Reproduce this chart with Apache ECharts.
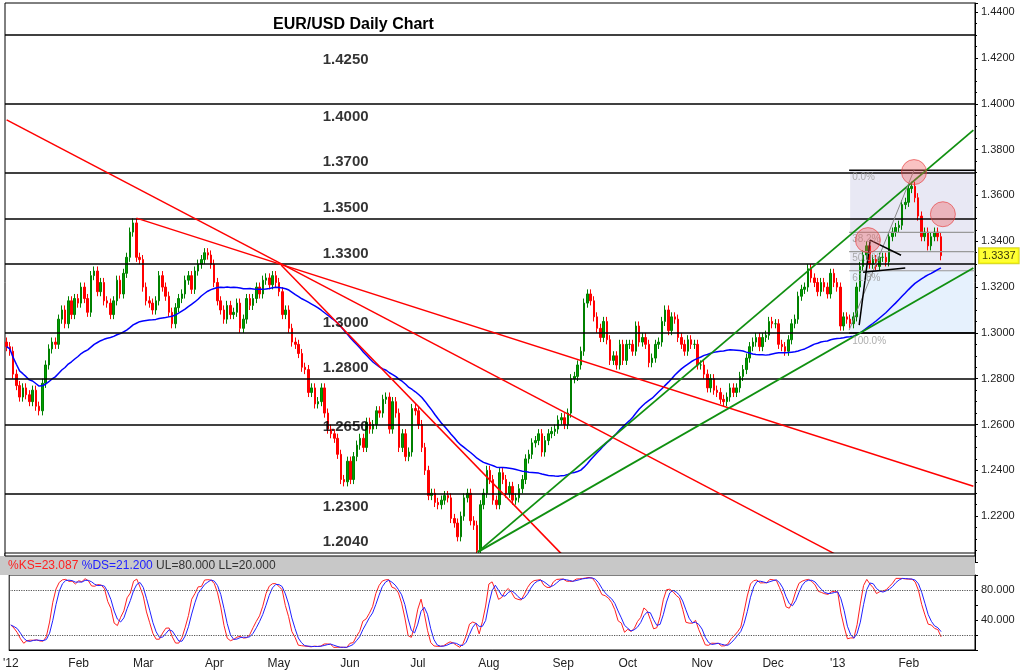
<!DOCTYPE html>
<html><head><meta charset="utf-8">
<script src="https://cdn.jsdelivr.net/npm/echarts@6/dist/echarts.min.js"></script>
<style>html,body{margin:0;padding:0;background:#fff}#c{width:1024px;height:670px}</style>
</head><body><div id="c"></div>
<script>
// ---- data ----
const monthNames = ["'12","Feb","Mar","Apr","May","Jun","Jul","Aug","Sep","Oct","Nov","Dec","'13","Feb"];
const closes = [
// Jan 12
1.2940,1.2920,1.2820,1.2770,1.2720,1.2760,1.2730,1.2700,1.2750,1.2680,1.2660,1.2780,1.2860,1.2930,1.2960,1.2950,1.3060,1.3100,1.3040,1.3140,1.3080,
// Feb
1.3150,1.3130,1.3200,1.3150,1.3090,1.3250,1.3270,1.3180,1.3220,1.3140,1.3130,1.3080,1.3140,1.3230,1.3170,1.3260,1.3330,1.3440,1.3480,1.3330,
// Mar
1.3320,1.3200,1.3140,1.3130,1.3100,1.3140,1.3250,1.3200,1.3160,1.3090,1.3040,1.3110,1.3150,1.3170,1.3230,1.3250,1.3190,1.3270,1.3300,1.3320,1.3350,1.3340,
// Apr
1.3300,1.3220,1.3140,1.3100,1.3060,1.3120,1.3080,1.3090,1.3130,1.3020,1.3060,1.3150,1.3120,1.3150,1.3200,1.3170,1.3230,1.3240,1.3210,1.3250,
// May
1.3220,1.3180,1.3080,1.3100,1.3020,1.2960,1.2950,1.2910,1.2850,1.2840,1.2740,1.2760,1.2690,1.2700,1.2760,1.2650,1.2580,1.2560,1.2540,1.2470,1.2360,1.2350,
// Jun
1.2440,1.2360,1.2460,1.2510,1.2540,1.2500,1.2610,1.2580,1.2600,1.2660,1.2650,1.2710,1.2720,1.2580,1.2700,1.2650,1.2500,1.2560,1.2460,1.2480,1.2670,
// Jul
1.2660,1.2600,1.2500,1.2400,1.2290,1.2300,1.2260,1.2250,1.2270,1.2290,1.2280,1.2190,1.2170,1.2110,1.2200,1.2280,1.2300,1.2180,1.2160,1.2050,1.2250,1.2300,
// Aug
1.2400,1.2360,1.2270,1.2250,1.2390,1.2360,1.2300,1.2330,1.2270,1.2280,1.2320,1.2360,1.2450,1.2470,1.2520,1.2530,1.2560,1.2480,1.2530,1.2560,1.2570,1.2580,1.2620,
// Sep
1.2630,1.2600,1.2650,1.2800,1.2810,1.2860,1.2920,1.3130,1.3170,1.3140,1.3070,1.3020,1.2980,1.3050,1.2970,1.2880,1.2900,1.2860,1.2950,1.2880,
// Oct
1.2950,1.2950,1.2920,1.3030,1.2960,1.2980,1.2950,1.2870,1.2890,1.2950,1.2960,1.3050,1.3100,1.3010,1.3070,1.3060,1.2980,1.2950,1.2920,1.2970,1.2950,1.2950,1.2860,
// Nov
1.2860,1.2820,1.2760,1.2800,1.2750,1.2740,1.2710,1.2700,1.2720,1.2760,1.2740,1.2760,1.2810,1.2840,1.2890,1.2940,1.2960,1.2980,1.2940,1.2980,1.2990,1.3050,
// Dec
1.3040,1.3040,1.2950,1.2940,1.2920,1.2970,1.3040,1.3060,1.3160,1.3190,1.3200,1.3280,1.3240,1.3220,1.3180,1.3220,1.3200,1.3170,1.3260,1.3220,
// Jan 13
1.3200,1.3030,1.3070,1.3060,1.3040,1.3070,1.3200,1.3290,1.3340,1.3380,1.3300,1.3320,1.3290,1.3330,1.3330,1.3310,1.3420,1.3440,1.3460,1.3470,1.3560,1.3570,
// Feb 13
1.3630,1.3640,1.3590,1.3510,1.3420,1.3440,1.3380,1.3420,1.3440,1.3420,1.3337
];
const monthCounts = [21,20,22,20,22,21,22,23,20,23,22,20,22,11];
const firstOpen = 1.2960;
const levels = [1.4250,1.4000,1.3700,1.3500,1.3300,1.3000,1.2800,1.2650,1.2300,1.2040];
const levelLabelBelow = [true,true,false,false,false,false,false,true,true,false];
const redLines = [[[0,1.3930],[256,1.2030]],[[40,1.3501],[298,1.2331]],[[84.6,1.3296],[171.4,1.2030]]];
const greenLines = [[[145.2,1.2043],[298,1.3885]],[[145.2,1.2043],[298,1.3283]]];
const fibStart = 259.7, fibHigh = 1.3710, fibLow = 1.3000;
const fibPcts = [0,38.2,50,61.8,100];
const circles = [[279.7,1.3702],[288.6,1.3518],[265.5,1.3405]];
const pennant = [[[262.8,1.3034],[266.2,1.3405],[275.7,1.3339]],[[264,1.3265],[277,1.3283]]];
const greyLine = [[259.7,1.3012],[279.7,1.3710]];
const lastPrice = 1.3337;

// ---- build ----
const N = 299;
const cats = [], monthStart = {};
let k = 0;
monthCounts.forEach((c,m)=>{ for(let j=0;j<c;j++){ if(j===0) monthStart[k]=monthNames[m]; cats.push(String(k)); k++; } });
while(cats.length<N){cats.push(String(cats.length));}
const wick = 0.0020;
const ohlc = closes.map((c,i)=>{const o=i?closes[i-1]:firstOpen;return [o,c,Math.min(o,c)-wick,Math.max(o,c)+wick];});
const ma = closes.map((c,i)=>{const s=Math.max(0,i-49);let t=0;for(let j=s;j<=i;j++)t+=closes[j];return +(t/(i-s+1)).toFixed(4);});
const rawK = closes.map((c,i)=>{const s=Math.max(0,i-13);let hh=-1,ll=9;for(let j=s;j<=i;j++){hh=Math.max(hh,ohlc[j][3]);ll=Math.min(ll,ohlc[j][2]);}return 100*(c-ll)/(hh-ll);});
const sma3=(a)=>a.map((v,i)=>{const s=Math.max(0,i-2);let t=0;for(let j=s;j<=i;j++)t+=a[j];return t/(i-s+1);});
const ks = sma3(rawK), ds = sma3(ks);
const fibVal = p => fibHigh - (fibHigh-fibLow)*p/100;

const chart = echarts.init(document.getElementById('c'));
const FF = 'Arial, Liberation Sans, sans-serif';
const series = [];
series.push({type:'candlestick',xAxisIndex:0,yAxisIndex:0,data:ohlc,barWidth:2,
  itemStyle:{color:'#00a000',color0:'#ff0000',borderColor:'#008000',borderColor0:'#ff0000',borderWidth:1},
  markLine:{symbol:'none',silent:true,animation:false,
    data:levels.map(v=>({yAxis:v,lineStyle:{color:'#000',width:1.5,type:'solid'},label:{show:false}}))},
  markArea:{silent:true,data:[
    [{xAxis:Math.round(fibStart),yAxis:fibHigh,itemStyle:{color:'rgba(205,205,230,0.45)'}},{xAxis:N-1,yAxis:fibVal(61.8)}],
    [{xAxis:Math.round(fibStart),yAxis:fibVal(61.8),itemStyle:{color:'rgba(200,225,250,0.45)'}},{xAxis:N-1,yAxis:fibLow}]
  ]}
});
series.push({type:'line',xAxisIndex:0,yAxisIndex:0,data:ma,showSymbol:false,lineStyle:{color:'#0000ff',width:1.5},z:4});
// fib lines
fibPcts.forEach(p=>{
  const v=fibVal(p);
  series.push({type:'line',xAxisIndex:1,yAxisIndex:1,showSymbol:false,z:3,
    lineStyle:{color:(p===0||p===100)?'#000':'#999',width:(p===0||p===100)?1.5:1.2},
    data:[[fibStart,v],[N-0.5,v]]});
  series.push({type:'scatter',xAxisIndex:1,yAxisIndex:1,symbolSize:0,z:6,data:[[fibStart,v]],
    label:{show:true,position:'right',offset:[-2,p===100?8:7],formatter:(p===0?'0.0':p.toFixed(1))+'%',color:'#999',fontSize:10,fontFamily:FF}});
});
redLines.forEach(l=>series.push({type:'line',xAxisIndex:1,yAxisIndex:1,data:l,showSymbol:false,lineStyle:{color:'#ff0000',width:1.5},z:5}));
greenLines.forEach(l=>series.push({type:'line',xAxisIndex:1,yAxisIndex:1,data:l,showSymbol:false,lineStyle:{color:'#109010',width:1.8},z:5}));
pennant.forEach(l=>series.push({type:'line',xAxisIndex:1,yAxisIndex:1,data:l,showSymbol:false,lineStyle:{color:'#000',width:1.5},z:6}));
series.push({type:'line',xAxisIndex:1,yAxisIndex:1,data:greyLine,showSymbol:false,lineStyle:{color:'#888',width:1},z:5});
series.push({type:'scatter',xAxisIndex:1,yAxisIndex:1,data:circles,symbolSize:25,z:7,
  itemStyle:{color:'rgba(240,90,90,0.45)',borderColor:'rgba(230,60,60,0.8)',borderWidth:1}});
// last price tag
series.push({type:'scatter',xAxisIndex:1,yAxisIndex:1,symbolSize:0,z:20,data:[[N-0.5,lastPrice]],
  label:{show:true,position:'right',distance:4,formatter:lastPrice.toFixed(4),backgroundColor:'#ffff00',borderColor:'#c8c800',borderWidth:1,color:'#000',padding:[2,3],fontSize:11,fontFamily:FF}});
// level labels
levels.forEach((v,i)=>series.push({type:'scatter',xAxisIndex:1,yAxisIndex:1,symbolSize:0,z:8,data:[[104.5,v]],
  label:{show:true,position:levelLabelBelow[i]?'bottom':'top',distance:levelLabelBelow[i]?6:3,formatter:v.toFixed(4),color:'#000',fontWeight:'bold',fontSize:15,fontFamily:FF}}));
// stochastic
series.push({type:'line',xAxisIndex:2,yAxisIndex:2,data:ks.map(v=>+v.toFixed(2)),showSymbol:false,lineStyle:{color:'#ff2020',width:1},
  markLine:{symbol:'none',silent:true,label:{show:false},data:[{yAxis:80},{yAxis:20}],lineStyle:{color:'#555',type:'dotted',width:1.2}}});
series.push({type:'line',xAxisIndex:2,yAxisIndex:2,data:ds.map(v=>+v.toFixed(2)),showSymbol:false,lineStyle:{color:'#2020ff',width:1}});

chart.setOption({
  animation:false,
  backgroundColor:'#fff',
  title:{text:'EUR/USD Daily Chart',left:268,top:12,textStyle:{fontSize:16,fontWeight:'bold',fontFamily:FF,color:'#000'}},
  grid:[
    {left:5,right:49,top:3,height:559,show:true,borderColor:'#000',borderWidth:1},
    {left:5,right:49,top:3,height:559},
    {left:5,right:49,top:575,height:75,show:true,borderColor:'#000',borderWidth:1}
  ],
  xAxis:[
    {type:'category',gridIndex:0,data:cats,boundaryGap:true,axisLine:{show:false},axisTick:{show:false},axisLabel:{show:false},splitLine:{show:false}},
    {type:'value',gridIndex:1,min:-0.5,max:N-0.5,show:false},
    {type:'category',gridIndex:2,data:cats,boundaryGap:true,axisLine:{lineStyle:{color:'#000'}},axisTick:{show:false},
      axisLabel:{interval:0,formatter:(v,i)=>monthStart[i]||'',color:'#222',fontSize:12,fontFamily:FF,margin:8}}
  ],
  yAxis:[
    {type:'value',gridIndex:0,position:'right',min:1.2,max:1.444,interval:0.02,scale:true,splitLine:{show:false},
      axisLine:{show:true,lineStyle:{color:'#000'}},axisTick:{show:true,length:3,lineStyle:{color:'#000'}},
      axisLabel:{formatter:v=>v.toFixed(4),fontSize:11,color:'#222',fontFamily:FF,margin:6,showMinLabel:false,showMaxLabel:false},
      minorTick:{show:true,splitNumber:4,length:2}},
    {type:'value',gridIndex:1,min:1.2,max:1.444,show:false},
    {type:'value',gridIndex:2,position:'right',min:0,max:100,interval:20,splitLine:{show:false},
      axisLine:{show:true,lineStyle:{color:'#000'}},axisTick:{show:true,length:3},
      axisLabel:{formatter:v=>(v===40||v===80)?v.toFixed(3):'',fontSize:11,color:'#222',fontFamily:FF,margin:6}}
  ],
  graphic:[
    {type:'rect',shape:{x:0,y:556,width:975,height:19},style:{fill:'#c8c8c8'},z:100},
    {type:'rect',shape:{x:5,y:553,width:970,height:3},style:{fill:'#fff',stroke:'#000',lineWidth:1},z:100},
    {type:'text',x:8,y:560,z:101,style:{rich:{r:{fill:'#ff2020'},b:{fill:'#2020ff'},k:{fill:'#333'}},text:'{r|%KS=23.087} {b|%DS=21.200} {k|UL=80.000 LL=20.000}',fontSize:12,fontFamily:FF}}
  ],
  series:series
});
</script></body></html>
